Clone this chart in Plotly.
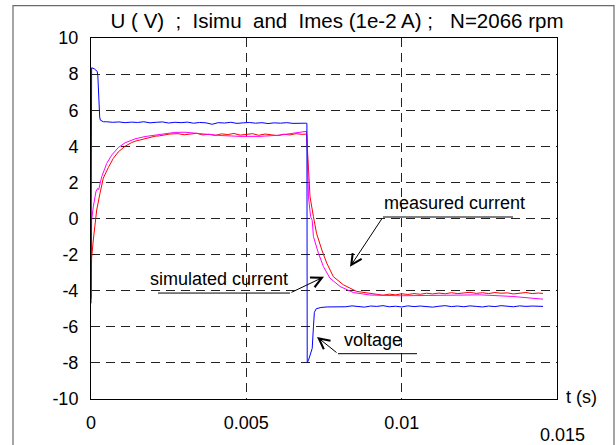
import plotly.graph_objects as go

# ---------------- data ----------------
# Voltage U (V)
t_voltage = [0, 0.00002, 0.0001, 0.00015, 0.0002, 0.00022, 0.00025, 0.00028, 0.0003, 0.0004,
             0.0005, 0.0007, 0.0009, 0.0011, 0.0013, 0.0015, 0.0017, 0.0019, 0.0021, 0.0023,
             0.0025, 0.0027, 0.0029, 0.0031, 0.0033, 0.0035, 0.0037, 0.0039, 0.0041, 0.0043,
             0.0045, 0.0047, 0.0049, 0.0051, 0.0053, 0.0055, 0.0057, 0.0059, 0.0061, 0.0063,
             0.0065, 0.0067, 0.0069,
             0.00695, 0.00696, 0.0070, 0.00705, 0.00712, 0.00716, 0.00719, 0.00725, 0.0074, 0.0076,
             0.0078, 0.0080, 0.0082, 0.0084, 0.0086, 0.0088, 0.0090, 0.0092, 0.0094, 0.0096,
             0.0098, 0.0100, 0.0102, 0.0104, 0.0106, 0.0108, 0.0110, 0.0112, 0.0114, 0.0116,
             0.0118, 0.0120, 0.0122, 0.0124, 0.0126, 0.0128, 0.0130, 0.0132, 0.0134, 0.0136,
             0.0138, 0.0140, 0.0142, 0.0144, 0.01455]
voltage = [-4.7, 8.35, 8.30, 8.24, 8.15, 7.9, 6.5, 5.62, 5.45, 5.36,
           5.36, 5.33, 5.35, 5.31, 5.34, 5.32, 5.36, 5.30, 5.33, 5.35,
           5.29, 5.33, 5.31, 5.34, 5.28, 5.32, 5.30, 5.22, 5.31, 5.29,
           5.33, 5.27, 5.30, 5.32, 5.28, 5.31, 5.26, 5.30, 5.28, 5.31,
           5.27, 5.29, 5.28,
           5.27, -7.98, -7.85, -7.6, -7.2, -6.0, -5.2, -5.0, -4.93, -4.9,
           -4.90, -4.86, -4.89, -4.84, -4.88, -4.91, -4.85, -4.87, -4.83, -4.89,
           -4.86, -4.90, -4.84, -4.88, -4.85, -4.87, -4.91, -4.86, -4.83, -4.88,
           -4.85, -4.89, -4.84, -4.87, -4.90, -4.85, -4.88, -4.83, -4.86, -4.89,
           -4.84, -4.87, -4.85, -4.86, -4.87]

# Measured current Imes (1e-2 A)
t_measured = [0, 0.00002, 0.000074, 0.000129, 0.000183, 0.00029, 0.000396, 0.000557, 0.000718, 0.000879,
              0.001094, 0.0013, 0.001416, 0.0016, 0.001738, 0.0019, 0.00206, 0.0022, 0.002382, 0.00254,
              0.0028, 0.0030, 0.0032, 0.0034, 0.0036, 0.0038, 0.0040, 0.0042, 0.0044, 0.0046,
              0.0048, 0.0050, 0.0052, 0.0054, 0.0056, 0.0058, 0.0060, 0.0062, 0.0064, 0.0066, 0.0068,
              0.00694, 0.00696, 0.00703, 0.00705, 0.00716, 0.00726, 0.00743, 0.00759, 0.0078, 0.00812,
              0.00855, 0.00898,
              0.0092, 0.0094, 0.0096, 0.0098, 0.0100, 0.0102, 0.0104, 0.0106, 0.0108, 0.0110,
              0.0112, 0.0114, 0.0116, 0.0118, 0.0120, 0.0122, 0.0124, 0.0126, 0.0128, 0.0130,
              0.0132, 0.0134, 0.0136, 0.0138, 0.0140, 0.0142, 0.0144, 0.01455]
i_measured = [-4.4, -2.18, -1.19, -0.25, 0.47, 1.4, 2.24, 2.82, 3.33, 3.69,
              4.0, 4.2, 4.28, 4.36, 4.43, 4.50, 4.56, 4.58, 4.63, 4.68,
              4.70, 4.64, 4.68, 4.72, 4.63, 4.67, 4.60, 4.69, 4.65, 4.71,
              4.62, 4.66, 4.70, 4.61, 4.68, 4.64, 4.59, 4.67, 4.63, 4.70, 4.66,
              4.68, 4.15, 2.31, 1.2, 0.1, -0.82, -1.74, -2.48, -3.22, -3.67,
              -4.04, -4.17,
              -4.20, -4.25, -4.19, -4.23, -4.17, -4.21, -4.16, -4.20, -4.14, -4.18,
              -4.13, -4.17, -4.11, -4.16, -4.12, -4.09, -4.15, -4.11, -4.16, -4.10,
              -4.14, -4.12, -4.18, -4.13, -4.10, -4.16, -4.13, -4.15]

# Simulated current Isimu (1e-2 A)
t_simulated = [0, 0.00001, 0.00002, 0.000074, 0.00016, 0.000216, 0.000248, 0.000344, 0.000505, 0.000666,
               0.000879, 0.001094, 0.001416, 0.001738, 0.00206, 0.002382, 0.0027, 0.003026, 0.003509, 0.004152,
               0.004796, 0.00544, 0.00608, 0.00657, 0.00694,
               0.00696, 0.00698, 0.0070, 0.00707, 0.00712, 0.00716, 0.00732, 0.00748, 0.00769, 0.00802,
               0.00844, 0.00898, 0.00995, 0.01156, 0.01252, 0.01358, 0.01455]
i_simulated = [-4.5, -2.0, -0.1, 0.65, 1.5, 1.67, 1.6, 2.31, 3.05, 3.51,
               3.93, 4.19, 4.41, 4.54, 4.63, 4.71, 4.77, 4.78, 4.70, 4.60,
               4.55, 4.55, 4.62, 4.72, 4.83,
               4.15, 2.5, 1.2, 0.1, -0.1, -1.0, -1.92, -2.66, -3.30, -3.77,
               -4.10, -4.24, -4.28, -4.25, -4.23, -4.32, -4.47]

x_tickvals = [0, 0.005, 0.01]
x_ticktext = ["0", "0.005", "0.01"]
y_tickvals = [-10, -8, -6, -4, -2, 0, 2, 4, 6, 8, 10]
y_ticktext = ["-10", "-8", "-6", "-4", "-2", "0", "2", "4", "6", "8", "10"]

title_text = "U ( V)  ;  Isimu  and  Imes (1e-2 A) ;   N=2066 rpm"

FONT = "Liberation Sans, Arial, sans-serif"

fig = go.Figure()
fig.add_trace(go.Scatter(x=t_measured, y=i_measured, mode="lines",
                         line=dict(color="#ff0000", width=1), name="measured current"))
fig.add_trace(go.Scatter(x=t_simulated, y=i_simulated, mode="lines",
                         line=dict(color="#ff00ff", width=1), name="simulated current"))
fig.add_trace(go.Scatter(x=t_voltage, y=voltage, mode="lines",
                         line=dict(color="#0000ff", width=1), name="voltage"))

# callouts: (text, text centre, underline start/end, arrow tip)
callouts = [
    ("measured current", (0.011685, 0.86), (0.009399, 0.013584, 0.083), (0.008337, -2.68)),
    ("simulated current", (0.004136, -3.37), (0.002157, 0.006406, -4.13), (0.0075, -3.23)),
    ("voltage", (0.009093, -6.71), (0.007951, 0.010494, -7.49), (0.007275, -6.56)),
]
for text, (tx, ty), (ux0, ux1, uy), (ax_, ay_) in callouts:
    fig.add_annotation(x=tx, y=ty, text=text, showarrow=False,
                       font=dict(family=FONT, size=18, color="black"))
    fig.add_shape(type="line", x0=ux0, x1=ux1, y0=uy, y1=uy,
                  line=dict(color="black", width=1))
    start_x = ux0 if text != "simulated current" else ux1
    fig.add_annotation(x=ax_, y=ay_, ax=start_x, ay=uy, axref="x", ayref="y",
                       text="", showarrow=True, arrowhead=5, arrowsize=2.1,
                       arrowwidth=1, arrowcolor="black")

# extra axis texts
fig.add_annotation(x=0.015, y=-10, text="0.015", showarrow=False, xanchor="center",
                   yanchor="middle", yshift=-36, xshift=5,
                   font=dict(family=FONT, size=18, color="black"))
fig.add_annotation(x=1, xref="paper", y=-10, text="t (s)", showarrow=False,
                   xanchor="left", yanchor="middle", xshift=7, yshift=2,
                   font=dict(family=FONT, size=18, color="black"))

# window frame
fig.add_shape(type="rect", xref="paper", yref="paper",
              x0=-0.1674, x1=1.1223, y0=-0.2, y1=1.0898,
              line=dict(color="#6a6a6a", width=1.2), layer="above")

fig.update_layout(
    width=616, height=445,
    margin=dict(l=91, r=59, t=37.5, b=45.5),
    paper_bgcolor="white", plot_bgcolor="white",
    showlegend=False,
    font=dict(family=FONT, size=18, color="black"),
    title=dict(text=title_text, x=0.528, xref="paper", xanchor="center",
               y=1 - 21 / 445, yref="container", yanchor="middle",
               font=dict(family=FONT, size=20.5, color="black")),
)
fig.update_xaxes(range=[0, 0.015], tickvals=x_tickvals, ticktext=x_ticktext,
                 showgrid=True, gridcolor="#222222", gridwidth=1, griddash="9px,6px",
                 showline=True, linecolor="black", linewidth=1, mirror=True,
                 ticks="", zeroline=False, ticklabelstandoff=7)
fig.update_yaxes(range=[-10, 10], tickvals=y_tickvals, ticktext=y_ticktext,
                 showgrid=True, gridcolor="#222222", gridwidth=1, griddash="9px,6px",
                 showline=True, linecolor="black", linewidth=1, mirror=True,
                 ticks="", zeroline=False, ticklabelstandoff=8)

fig.write_html("out.html", config={"displayModeBar": False},
               post_script="document.body.style.margin='0';document.body.style.overflow='hidden';")
